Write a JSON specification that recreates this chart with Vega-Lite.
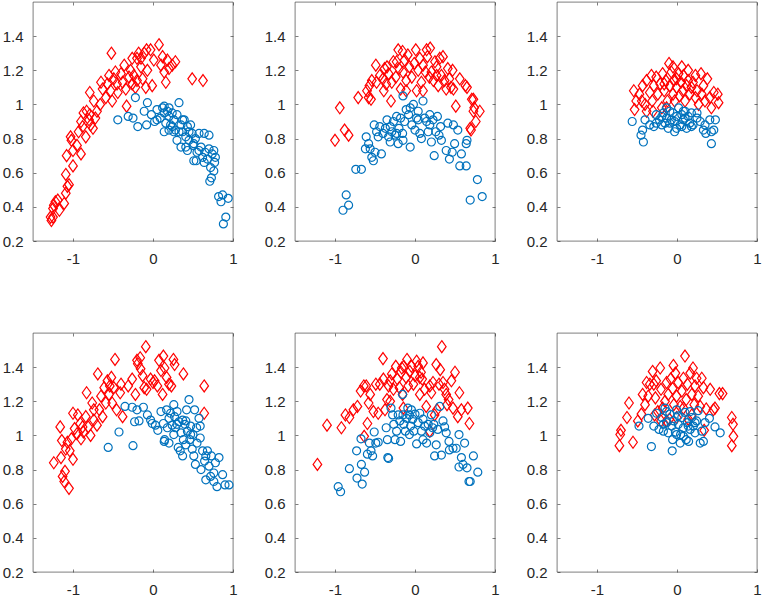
{
  "$schema": "https://vega.github.io/schema/vega-lite/v6.json",
  "padding": {"left": 1, "top": 1, "right": 0, "bottom": 0},
  "background": "white",
  "datasets": {
    "pts": [
      {"r":1,"c":1,"s":"r","x":-1.27,"y":0.32},{"r":1,"c":1,"s":"r","x":-1.25,"y":0.34},{"r":1,"c":1,"s":"r","x":-1.28,"y":0.34},{"r":1,"c":1,"s":"r","x":-1.24,"y":0.41},{"r":1,"c":1,"s":"r","x":-1.22,"y":0.43},{"r":1,"c":1,"s":"r","x":-1.19,"y":0.44},{"r":1,"c":1,"s":"r","x":-1.25,"y":0.39},{"r":1,"c":1,"s":"r","x":-1.11,"y":0.42},{"r":1,"c":1,"s":"r","x":-1.17,"y":0.38},{"r":1,"c":1,"s":"r","x":-1.09,"y":0.48},
      {"r":1,"c":1,"s":"r","x":-1.07,"y":0.52},{"r":1,"c":1,"s":"r","x":-1.05,"y":0.53},{"r":1,"c":1,"s":"r","x":-1.09,"y":0.59},{"r":1,"c":1,"s":"r","x":-1.08,"y":0.70},{"r":1,"c":1,"s":"r","x":-1.03,"y":0.81},{"r":1,"c":1,"s":"r","x":-1.02,"y":0.79},{"r":1,"c":1,"s":"r","x":-1.00,"y":0.64},{"r":1,"c":1,"s":"r","x":-1.0,"y":0.73},{"r":1,"c":1,"s":"r","x":-0.95,"y":0.76},{"r":1,"c":1,"s":"r","x":-0.90,"y":0.71},
      {"r":1,"c":1,"s":"r","x":-0.93,"y":0.84},{"r":1,"c":1,"s":"r","x":-0.88,"y":0.87},{"r":1,"c":1,"s":"r","x":-0.90,"y":0.90},{"r":1,"c":1,"s":"r","x":-0.87,"y":0.95},{"r":1,"c":1,"s":"r","x":-0.84,"y":0.81},{"r":1,"c":1,"s":"r","x":-0.83,"y":0.96},{"r":1,"c":1,"s":"r","x":-0.79,"y":0.94},{"r":1,"c":1,"s":"r","x":-0.80,"y":0.91},{"r":1,"c":1,"s":"r","x":-0.78,"y":0.88},{"r":1,"c":1,"s":"r","x":-0.75,"y":0.86},
      {"r":1,"c":1,"s":"r","x":-0.72,"y":0.92},{"r":1,"c":1,"s":"r","x":-0.79,"y":1.07},{"r":1,"c":1,"s":"r","x":-0.74,"y":1.02},{"r":1,"c":1,"s":"r","x":-0.70,"y":0.96},{"r":1,"c":1,"s":"r","x":-0.66,"y":1.00},{"r":1,"c":1,"s":"r","x":-0.65,"y":1.13},{"r":1,"c":1,"s":"r","x":-0.63,"y":1.09},{"r":1,"c":1,"s":"r","x":-0.59,"y":1.04},{"r":1,"c":1,"s":"r","x":-0.57,"y":1.12},{"r":1,"c":1,"s":"r","x":-0.55,"y":1.17},
      {"r":1,"c":1,"s":"r","x":-0.53,"y":1.08},{"r":1,"c":1,"s":"r","x":-0.51,"y":1.02},{"r":1,"c":1,"s":"r","x":-0.49,"y":1.15},{"r":1,"c":1,"s":"r","x":-0.52,"y":1.30},{"r":1,"c":1,"s":"r","x":-0.47,"y":1.19},{"r":1,"c":1,"s":"r","x":-0.45,"y":1.12},{"r":1,"c":1,"s":"r","x":-0.44,"y":1.07},{"r":1,"c":1,"s":"r","x":-0.40,"y":1.18},{"r":1,"c":1,"s":"r","x":-0.38,"y":1.13},{"r":1,"c":1,"s":"r","x":-0.36,"y":1.23},
      {"r":1,"c":1,"s":"r","x":-0.34,"y":1.09},{"r":1,"c":1,"s":"r","x":-0.33,"y":0.99},{"r":1,"c":1,"s":"r","x":-0.30,"y":1.16},{"r":1,"c":1,"s":"r","x":-0.28,"y":1.20},{"r":1,"c":1,"s":"r","x":-0.26,"y":1.12},{"r":1,"c":1,"s":"r","x":-0.24,"y":1.17},{"r":1,"c":1,"s":"r","x":-0.22,"y":1.10},{"r":1,"c":1,"s":"r","x":-0.20,"y":1.27},{"r":1,"c":1,"s":"r","x":-0.18,"y":1.30},{"r":1,"c":1,"s":"r","x":-0.15,"y":1.22},
      {"r":1,"c":1,"s":"r","x":-0.13,"y":1.15},{"r":1,"c":1,"s":"r","x":-0.11,"y":1.30},{"r":1,"c":1,"s":"r","x":-0.09,"y":1.10},{"r":1,"c":1,"s":"r","x":-0.07,"y":1.20},{"r":1,"c":1,"s":"r","x":-0.03,"y":1.32},{"r":1,"c":1,"s":"r","x":-0.01,"y":1.11},{"r":1,"c":1,"s":"r","x":0.01,"y":1.26},{"r":1,"c":1,"s":"r","x":0.075,"y":1.35},{"r":1,"c":1,"s":"r","x":0.10,"y":1.23},{"r":1,"c":1,"s":"r","x":0.12,"y":1.28},
      {"r":1,"c":1,"s":"r","x":0.14,"y":1.19},{"r":1,"c":1,"s":"r","x":0.16,"y":1.13},{"r":1,"c":1,"s":"r","x":0.18,"y":1.26},{"r":1,"c":1,"s":"r","x":0.20,"y":1.21},{"r":1,"c":1,"s":"r","x":0.24,"y":1.23},{"r":1,"c":1,"s":"r","x":0.28,"y":1.25},{"r":1,"c":1,"s":"r","x":0.49,"y":1.15},{"r":1,"c":1,"s":"r","x":0.625,"y":1.14},{"r":1,"c":1,"s":"r","x":-0.20,"y":1.14},{"r":1,"c":1,"s":"r","x":-0.26,"y":1.27},
      {"r":1,"c":1,"s":"r","x":-0.15,"y":1.27},{"r":1,"c":1,"s":"r","x":-0.08,"y":1.32},
      {"r":1,"c":1,"s":"b","x":-0.44,"y":0.91},{"r":1,"c":1,"s":"b","x":-0.31,"y":0.93},{"r":1,"c":1,"s":"b","x":-0.25,"y":0.92},{"r":1,"c":1,"s":"b","x":-0.22,"y":1.04},{"r":1,"c":1,"s":"b","x":-0.19,"y":0.87},{"r":1,"c":1,"s":"b","x":-0.11,"y":0.96},{"r":1,"c":1,"s":"b","x":-0.08,"y":0.88},{"r":1,"c":1,"s":"b","x":-0.07,"y":1.01},{"r":1,"c":1,"s":"b","x":-0.02,"y":0.94},{"r":1,"c":1,"s":"b","x":0.02,"y":0.90},
      {"r":1,"c":1,"s":"b","x":0.05,"y":0.97},{"r":1,"c":1,"s":"b","x":0.09,"y":0.92},{"r":1,"c":1,"s":"b","x":0.12,"y":0.98},{"r":1,"c":1,"s":"b","x":0.14,"y":0.95},{"r":1,"c":1,"s":"b","x":0.16,"y":0.89},{"r":1,"c":1,"s":"b","x":0.18,"y":0.96},{"r":1,"c":1,"s":"b","x":0.20,"y":0.93},{"r":1,"c":1,"s":"b","x":0.22,"y":0.88},{"r":1,"c":1,"s":"b","x":0.24,"y":0.95},{"r":1,"c":1,"s":"b","x":0.26,"y":0.91},
      {"r":1,"c":1,"s":"b","x":0.28,"y":0.85},{"r":1,"c":1,"s":"b","x":0.30,"y":0.94},{"r":1,"c":1,"s":"b","x":0.325,"y":1.01},{"r":1,"c":1,"s":"b","x":0.35,"y":0.88},{"r":1,"c":1,"s":"b","x":0.37,"y":0.84},{"r":1,"c":1,"s":"b","x":0.35,"y":0.75},{"r":1,"c":1,"s":"b","x":0.39,"y":0.91},{"r":1,"c":1,"s":"b","x":0.41,"y":0.81},{"r":1,"c":1,"s":"b","x":0.43,"y":0.87},{"r":1,"c":1,"s":"b","x":0.45,"y":0.79},
      {"r":1,"c":1,"s":"b","x":0.47,"y":0.88},{"r":1,"c":1,"s":"b","x":0.49,"y":0.83},{"r":1,"c":1,"s":"b","x":0.50,"y":0.76},{"r":1,"c":1,"s":"b","x":0.51,"y":0.67},{"r":1,"c":1,"s":"b","x":0.53,"y":0.80},{"r":1,"c":1,"s":"b","x":0.55,"y":0.72},{"r":1,"c":1,"s":"b","x":0.575,"y":0.83},{"r":1,"c":1,"s":"b","x":0.60,"y":0.75},{"r":1,"c":1,"s":"b","x":0.62,"y":0.69},{"r":1,"c":1,"s":"b","x":0.64,"y":0.83},
      {"r":1,"c":1,"s":"b","x":0.65,"y":0.72},{"r":1,"c":1,"s":"b","x":0.68,"y":0.68},{"r":1,"c":1,"s":"b","x":0.70,"y":0.74},{"r":1,"c":1,"s":"b","x":0.72,"y":0.63},{"r":1,"c":1,"s":"b","x":0.71,"y":0.55},{"r":1,"c":1,"s":"b","x":0.73,"y":0.57},{"r":1,"c":1,"s":"b","x":0.74,"y":0.71},{"r":1,"c":1,"s":"b","x":0.76,"y":0.73},{"r":1,"c":1,"s":"b","x":0.77,"y":0.66},{"r":1,"c":1,"s":"b","x":0.78,"y":0.69},
      {"r":1,"c":1,"s":"b","x":0.87,"y":0.47},{"r":1,"c":1,"s":"b","x":0.82,"y":0.46},{"r":1,"c":1,"s":"b","x":0.85,"y":0.43},{"r":1,"c":1,"s":"b","x":0.91,"y":0.34},{"r":1,"c":1,"s":"b","x":0.88,"y":0.30},{"r":1,"c":1,"s":"b","x":0.94,"y":0.45},{"r":1,"c":1,"s":"b","x":0.05,"y":0.91},{"r":1,"c":1,"s":"b","x":0.14,"y":0.84},{"r":1,"c":1,"s":"b","x":0.20,"y":0.85},{"r":1,"c":1,"s":"b","x":0.26,"y":0.84},
      {"r":1,"c":1,"s":"b","x":0.30,"y":0.79},{"r":1,"c":1,"s":"b","x":0.325,"y":0.84},{"r":1,"c":1,"s":"b","x":0.37,"y":0.91},{"r":1,"c":1,"s":"b","x":0.43,"y":0.73},{"r":1,"c":1,"s":"b","x":0.45,"y":0.84},{"r":1,"c":1,"s":"b","x":0.51,"y":0.77},{"r":1,"c":1,"s":"b","x":0.575,"y":0.73},{"r":1,"c":1,"s":"b","x":0.64,"y":0.66},{"r":1,"c":1,"s":"b","x":0.70,"y":0.82},{"r":1,"c":1,"s":"b","x":0.14,"y":0.99},
      {"r":1,"c":1,"s":"b","x":0.20,"y":0.98},{"r":1,"c":1,"s":"b","x":0.24,"y":0.87},{"r":1,"c":1,"s":"b","x":0.41,"y":0.75},{"r":1,"c":1,"s":"b","x":0.54,"y":0.67},{"r":1,"c":1,"s":"b","x":0.76,"y":0.61},

      {"r":1,"c":2,"s":"r","x":-1.0,"y":0.79},{"r":1,"c":2,"s":"r","x":-0.94,"y":0.98},{"r":1,"c":2,"s":"r","x":-0.88,"y":0.85},{"r":1,"c":2,"s":"r","x":-0.83,"y":0.82},{"r":1,"c":2,"s":"r","x":-0.71,"y":1.04},{"r":1,"c":2,"s":"r","x":-0.60,"y":1.08},{"r":1,"c":2,"s":"r","x":-0.58,"y":1.04},{"r":1,"c":2,"s":"r","x":-0.55,"y":1.03},{"r":1,"c":2,"s":"r","x":-0.57,"y":1.11},{"r":1,"c":2,"s":"r","x":-0.54,"y":1.14},
      {"r":1,"c":2,"s":"r","x":-0.49,"y":1.23},{"r":1,"c":2,"s":"r","x":-0.48,"y":1.13},{"r":1,"c":2,"s":"r","x":-0.44,"y":1.17},{"r":1,"c":2,"s":"r","x":-0.40,"y":1.15},{"r":1,"c":2,"s":"r","x":-0.38,"y":1.21},{"r":1,"c":2,"s":"r","x":-0.36,"y":1.12},{"r":1,"c":2,"s":"r","x":-0.33,"y":1.18},{"r":1,"c":2,"s":"r","x":-0.30,"y":1.02},{"r":1,"c":2,"s":"r","x":-0.29,"y":1.13},{"r":1,"c":2,"s":"r","x":-0.27,"y":1.25},
      {"r":1,"c":2,"s":"r","x":-0.24,"y":1.16},{"r":1,"c":2,"s":"r","x":-0.21,"y":1.32},{"r":1,"c":2,"s":"r","x":-0.20,"y":1.21},{"r":1,"c":2,"s":"r","x":-0.18,"y":1.09},{"r":1,"c":2,"s":"r","x":-0.155,"y":1.31},{"r":1,"c":2,"s":"r","x":-0.15,"y":1.19},{"r":1,"c":2,"s":"r","x":-0.13,"y":1.26},{"r":1,"c":2,"s":"r","x":-0.11,"y":1.14},{"r":1,"c":2,"s":"r","x":-0.07,"y":1.22},{"r":1,"c":2,"s":"r","x":-0.04,"y":1.16},
      {"r":1,"c":2,"s":"r","x":-0.01,"y":1.24},{"r":1,"c":2,"s":"r","x":0.01,"y":1.32},{"r":1,"c":2,"s":"r","x":0.02,"y":1.08},{"r":1,"c":2,"s":"r","x":0.04,"y":1.20},{"r":1,"c":2,"s":"r","x":0.06,"y":1.27},{"r":1,"c":2,"s":"r","x":0.08,"y":1.13},{"r":1,"c":2,"s":"r","x":0.10,"y":1.23},{"r":1,"c":2,"s":"r","x":0.13,"y":1.19},{"r":1,"c":2,"s":"r","x":0.155,"y":1.28},{"r":1,"c":2,"s":"r","x":0.18,"y":1.16},
      {"r":1,"c":2,"s":"r","x":0.19,"y":1.33},{"r":1,"c":2,"s":"r","x":0.205,"y":1.19},{"r":1,"c":2,"s":"r","x":0.23,"y":1.14},{"r":1,"c":2,"s":"r","x":0.25,"y":1.25},{"r":1,"c":2,"s":"r","x":0.27,"y":1.17},{"r":1,"c":2,"s":"r","x":0.29,"y":1.11},{"r":1,"c":2,"s":"r","x":0.31,"y":1.27},{"r":1,"c":2,"s":"r","x":0.33,"y":1.17},{"r":1,"c":2,"s":"r","x":0.35,"y":1.28},{"r":1,"c":2,"s":"r","x":0.37,"y":1.14},
      {"r":1,"c":2,"s":"r","x":0.39,"y":1.09},{"r":1,"c":2,"s":"r","x":0.41,"y":1.21},{"r":1,"c":2,"s":"r","x":0.43,"y":1.15},{"r":1,"c":2,"s":"r","x":0.45,"y":1.10},{"r":1,"c":2,"s":"r","x":0.47,"y":1.20},{"r":1,"c":2,"s":"r","x":0.48,"y":1.09},{"r":1,"c":2,"s":"r","x":0.51,"y":0.99},{"r":1,"c":2,"s":"r","x":0.56,"y":1.15},{"r":1,"c":2,"s":"r","x":0.63,"y":1.11},{"r":1,"c":2,"s":"r","x":0.65,"y":1.10},
      {"r":1,"c":2,"s":"r","x":0.71,"y":1.03},{"r":1,"c":2,"s":"r","x":0.69,"y":0.86},{"r":1,"c":2,"s":"r","x":0.73,"y":1.03},{"r":1,"c":2,"s":"r","x":0.76,"y":0.90},{"r":1,"c":2,"s":"r","x":0.73,"y":0.96},{"r":1,"c":2,"s":"r","x":0.81,"y":0.96},{"r":1,"c":2,"s":"r","x":0.70,"y":0.85},{"r":1,"c":2,"s":"r","x":0.74,"y":0.98},{"r":1,"c":2,"s":"r","x":-0.23,"y":1.25},{"r":1,"c":2,"s":"r","x":-0.09,"y":1.29},
      {"r":1,"c":2,"s":"r","x":0.145,"y":1.32},{"r":1,"c":2,"s":"r","x":-0.11,"y":1.08},{"r":1,"c":2,"s":"r","x":-0.35,"y":1.22},{"r":1,"c":2,"s":"r","x":0.10,"y":1.08},{"r":1,"c":2,"s":"r","x":0.27,"y":1.22},{"r":1,"c":2,"s":"r","x":-0.39,"y":1.08},
      {"r":1,"c":2,"s":"b","x":-0.90,"y":0.38},{"r":1,"c":2,"s":"b","x":-0.86,"y":0.47},{"r":1,"c":2,"s":"b","x":-0.83,"y":0.41},{"r":1,"c":2,"s":"b","x":-0.74,"y":0.62},{"r":1,"c":2,"s":"b","x":-0.67,"y":0.62},{"r":1,"c":2,"s":"b","x":-0.62,"y":0.74},{"r":1,"c":2,"s":"b","x":-0.61,"y":0.81},{"r":1,"c":2,"s":"b","x":-0.58,"y":0.77},{"r":1,"c":2,"s":"b","x":-0.56,"y":0.74},{"r":1,"c":2,"s":"b","x":-0.54,"y":0.69},
      {"r":1,"c":2,"s":"b","x":-0.52,"y":0.67},{"r":1,"c":2,"s":"b","x":-0.51,"y":0.88},{"r":1,"c":2,"s":"b","x":-0.50,"y":0.72},{"r":1,"c":2,"s":"b","x":-0.48,"y":0.84},{"r":1,"c":2,"s":"b","x":-0.46,"y":0.81},{"r":1,"c":2,"s":"b","x":-0.44,"y":0.87},{"r":1,"c":2,"s":"b","x":-0.42,"y":0.71},{"r":1,"c":2,"s":"b","x":-0.40,"y":0.83},{"r":1,"c":2,"s":"b","x":-0.37,"y":0.86},{"r":1,"c":2,"s":"b","x":-0.35,"y":0.91},
      {"r":1,"c":2,"s":"b","x":-0.33,"y":0.81},{"r":1,"c":2,"s":"b","x":-0.31,"y":0.78},{"r":1,"c":2,"s":"b","x":-0.29,"y":0.84},{"r":1,"c":2,"s":"b","x":-0.27,"y":0.90},{"r":1,"c":2,"s":"b","x":-0.25,"y":0.82},{"r":1,"c":2,"s":"b","x":-0.23,"y":0.93},{"r":1,"c":2,"s":"b","x":-0.21,"y":0.77},{"r":1,"c":2,"s":"b","x":-0.20,"y":0.86},{"r":1,"c":2,"s":"b","x":-0.18,"y":0.92},{"r":1,"c":2,"s":"b","x":-0.155,"y":0.83},
      {"r":1,"c":2,"s":"b","x":-0.15,"y":1.05},{"r":1,"c":2,"s":"b","x":-0.13,"y":0.90},{"r":1,"c":2,"s":"b","x":-0.11,"y":0.97},{"r":1,"c":2,"s":"b","x":-0.08,"y":0.94},{"r":1,"c":2,"s":"b","x":-0.06,"y":0.98},{"r":1,"c":2,"s":"b","x":-0.04,"y":0.88},{"r":1,"c":2,"s":"b","x":-0.02,"y":1.00},{"r":1,"c":2,"s":"b","x":0.00,"y":0.85},{"r":1,"c":2,"s":"b","x":0.02,"y":0.92},{"r":1,"c":2,"s":"b","x":0.04,"y":0.91},
      {"r":1,"c":2,"s":"b","x":0.06,"y":0.83},{"r":1,"c":2,"s":"b","x":0.08,"y":0.80},{"r":1,"c":2,"s":"b","x":0.10,"y":1.02},{"r":1,"c":2,"s":"b","x":0.12,"y":0.92},{"r":1,"c":2,"s":"b","x":0.145,"y":0.90},{"r":1,"c":2,"s":"b","x":0.165,"y":0.84},{"r":1,"c":2,"s":"b","x":0.185,"y":0.88},{"r":1,"c":2,"s":"b","x":0.205,"y":0.78},{"r":1,"c":2,"s":"b","x":0.225,"y":0.91},{"r":1,"c":2,"s":"b","x":0.24,"y":0.70},
      {"r":1,"c":2,"s":"b","x":0.26,"y":0.84},{"r":1,"c":2,"s":"b","x":0.28,"y":0.93},{"r":1,"c":2,"s":"b","x":0.30,"y":0.82},{"r":1,"c":2,"s":"b","x":0.32,"y":0.87},{"r":1,"c":2,"s":"b","x":0.33,"y":0.79},{"r":1,"c":2,"s":"b","x":0.39,"y":0.73},{"r":1,"c":2,"s":"b","x":0.41,"y":0.89},{"r":1,"c":2,"s":"b","x":0.43,"y":0.68},{"r":1,"c":2,"s":"b","x":0.465,"y":0.72},{"r":1,"c":2,"s":"b","x":0.48,"y":0.88},
      {"r":1,"c":2,"s":"b","x":0.495,"y":0.77},{"r":1,"c":2,"s":"b","x":0.535,"y":0.85},{"r":1,"c":2,"s":"b","x":0.56,"y":0.64},{"r":1,"c":2,"s":"b","x":0.58,"y":0.71},{"r":1,"c":2,"s":"b","x":0.64,"y":0.64},{"r":1,"c":2,"s":"b","x":0.64,"y":0.77},{"r":1,"c":2,"s":"b","x":0.65,"y":0.79},{"r":1,"c":2,"s":"b","x":0.69,"y":0.44},{"r":1,"c":2,"s":"b","x":0.78,"y":0.56},{"r":1,"c":2,"s":"b","x":0.84,"y":0.46},
      {"r":1,"c":2,"s":"b","x":-0.23,"y":0.83},{"r":1,"c":2,"s":"b","x":-0.31,"y":0.87},{"r":1,"c":2,"s":"b","x":0.04,"y":0.96},{"r":1,"c":2,"s":"b","x":0.185,"y":0.94},{"r":1,"c":2,"s":"b","x":-0.15,"y":0.79},{"r":1,"c":2,"s":"b","x":-0.06,"y":0.75},

      {"r":1,"c":3,"s":"r","x":-0.54,"y":1.08},{"r":1,"c":3,"s":"r","x":-0.53,"y":0.97},{"r":1,"c":3,"s":"r","x":-0.51,"y":1.02},{"r":1,"c":3,"s":"r","x":-0.47,"y":1.06},{"r":1,"c":3,"s":"r","x":-0.43,"y":1.11},{"r":1,"c":3,"s":"r","x":-0.40,"y":1.00},{"r":1,"c":3,"s":"r","x":-0.38,"y":1.14},{"r":1,"c":3,"s":"r","x":-0.38,"y":0.96},{"r":1,"c":3,"s":"r","x":-0.34,"y":1.07},{"r":1,"c":3,"s":"r","x":-0.32,"y":1.17},
      {"r":1,"c":3,"s":"r","x":-0.31,"y":1.02},{"r":1,"c":3,"s":"r","x":-0.29,"y":1.11},{"r":1,"c":3,"s":"r","x":-0.26,"y":1.16},{"r":1,"c":3,"s":"r","x":-0.24,"y":1.06},{"r":1,"c":3,"s":"r","x":-0.21,"y":1.12},{"r":1,"c":3,"s":"r","x":-0.19,"y":0.98},{"r":1,"c":3,"s":"r","x":-0.18,"y":1.18},{"r":1,"c":3,"s":"r","x":-0.16,"y":1.08},{"r":1,"c":3,"s":"r","x":-0.14,"y":1.14},{"r":1,"c":3,"s":"r","x":-0.12,"y":1.02},
      {"r":1,"c":3,"s":"r","x":-0.10,"y":1.24},{"r":1,"c":3,"s":"r","x":-0.09,"y":1.11},{"r":1,"c":3,"s":"r","x":-0.07,"y":1.19},{"r":1,"c":3,"s":"r","x":-0.05,"y":1.06},{"r":1,"c":3,"s":"r","x":-0.04,"y":1.14},{"r":1,"c":3,"s":"r","x":-0.03,"y":1.02},{"r":1,"c":3,"s":"r","x":-0.005,"y":1.10},{"r":1,"c":3,"s":"r","x":0.02,"y":1.18},{"r":1,"c":3,"s":"r","x":0.03,"y":1.05},{"r":1,"c":3,"s":"r","x":0.05,"y":1.13},
      {"r":1,"c":3,"s":"r","x":0.07,"y":1.08},{"r":1,"c":3,"s":"r","x":0.08,"y":1.17},{"r":1,"c":3,"s":"r","x":0.10,"y":1.02},{"r":1,"c":3,"s":"r","x":0.12,"y":1.11},{"r":1,"c":3,"s":"r","x":0.14,"y":1.14},{"r":1,"c":3,"s":"r","x":0.16,"y":1.06},{"r":1,"c":3,"s":"r","x":0.18,"y":1.10},{"r":1,"c":3,"s":"r","x":0.20,"y":1.13},{"r":1,"c":3,"s":"r","x":0.23,"y":1.04},{"r":1,"c":3,"s":"r","x":0.25,"y":1.08},
      {"r":1,"c":3,"s":"r","x":0.27,"y":1.00},{"r":1,"c":3,"s":"r","x":0.30,"y":1.18},{"r":1,"c":3,"s":"r","x":0.31,"y":1.06},{"r":1,"c":3,"s":"r","x":0.33,"y":1.11},{"r":1,"c":3,"s":"r","x":0.35,"y":1.02},{"r":1,"c":3,"s":"r","x":0.38,"y":1.15},{"r":1,"c":3,"s":"r","x":0.41,"y":1.04},{"r":1,"c":3,"s":"r","x":0.43,"y":0.98},{"r":1,"c":3,"s":"r","x":0.46,"y":1.07},{"r":1,"c":3,"s":"r","x":0.51,"y":1.06},
      {"r":1,"c":3,"s":"r","x":0.52,"y":1.01},{"r":1,"c":3,"s":"r","x":-0.30,"y":0.96},{"r":1,"c":3,"s":"r","x":-0.13,"y":0.98},{"r":1,"c":3,"s":"r","x":-0.05,"y":1.22},{"r":1,"c":3,"s":"r","x":0.06,"y":1.22},{"r":1,"c":3,"s":"r","x":-0.16,"y":1.12},{"r":1,"c":3,"s":"r","x":-0.005,"y":1.15},{"r":1,"c":3,"s":"r","x":0.14,"y":1.20},{"r":1,"c":3,"s":"r","x":-0.44,"y":1.02},{"r":1,"c":3,"s":"r","x":0.23,"y":1.17},
      {"r":1,"c":3,"s":"b","x":-0.56,"y":0.90},{"r":1,"c":3,"s":"b","x":-0.45,"y":0.82},{"r":1,"c":3,"s":"b","x":-0.43,"y":0.85},{"r":1,"c":3,"s":"b","x":-0.42,"y":0.78},{"r":1,"c":3,"s":"b","x":-0.40,"y":0.91},{"r":1,"c":3,"s":"b","x":-0.34,"y":0.88},{"r":1,"c":3,"s":"b","x":-0.29,"y":0.87},{"r":1,"c":3,"s":"b","x":-0.26,"y":0.94},{"r":1,"c":3,"s":"b","x":-0.22,"y":0.91},{"r":1,"c":3,"s":"b","x":-0.19,"y":0.88},
      {"r":1,"c":3,"s":"b","x":-0.17,"y":0.95},{"r":1,"c":3,"s":"b","x":-0.15,"y":0.89},{"r":1,"c":3,"s":"b","x":-0.13,"y":0.92},{"r":1,"c":3,"s":"b","x":-0.11,"y":0.86},{"r":1,"c":3,"s":"b","x":-0.09,"y":0.96},{"r":1,"c":3,"s":"b","x":-0.07,"y":0.91},{"r":1,"c":3,"s":"b","x":-0.05,"y":0.95},{"r":1,"c":3,"s":"b","x":-0.03,"y":0.84},{"r":1,"c":3,"s":"b","x":-0.005,"y":0.93},{"r":1,"c":3,"s":"b","x":0.02,"y":0.98},
      {"r":1,"c":3,"s":"b","x":0.04,"y":0.88},{"r":1,"c":3,"s":"b","x":0.06,"y":0.94},{"r":1,"c":3,"s":"b","x":0.08,"y":0.91},{"r":1,"c":3,"s":"b","x":0.10,"y":0.96},{"r":1,"c":3,"s":"b","x":0.12,"y":0.86},{"r":1,"c":3,"s":"b","x":0.14,"y":0.93},{"r":1,"c":3,"s":"b","x":0.16,"y":0.89},{"r":1,"c":3,"s":"b","x":0.18,"y":0.95},{"r":1,"c":3,"s":"b","x":0.20,"y":0.88},{"r":1,"c":3,"s":"b","x":0.25,"y":0.92},
      {"r":1,"c":3,"s":"b","x":0.29,"y":0.90},{"r":1,"c":3,"s":"b","x":0.33,"y":0.85},{"r":1,"c":3,"s":"b","x":0.35,"y":0.88},{"r":1,"c":3,"s":"b","x":0.36,"y":0.83},{"r":1,"c":3,"s":"b","x":0.41,"y":0.91},{"r":1,"c":3,"s":"b","x":0.43,"y":0.84},{"r":1,"c":3,"s":"b","x":0.43,"y":0.77},{"r":1,"c":3,"s":"b","x":0.46,"y":0.85},{"r":1,"c":3,"s":"b","x":0.48,"y":0.91},{"r":1,"c":3,"s":"b","x":-0.03,"y":0.90},
      {"r":1,"c":3,"s":"b","x":0.06,"y":0.87},{"r":1,"c":3,"s":"b","x":-0.13,"y":0.98},{"r":1,"c":3,"s":"b","x":-0.005,"y":0.86},{"r":1,"c":3,"s":"b","x":0.10,"y":0.92},{"r":1,"c":3,"s":"b","x":0.18,"y":0.87},{"r":1,"c":3,"s":"b","x":-0.19,"y":0.93},{"r":1,"c":3,"s":"b","x":-0.09,"y":0.89},{"r":1,"c":3,"s":"b","x":0.08,"y":0.96},{"r":1,"c":3,"s":"b","x":-0.26,"y":0.89},{"r":1,"c":3,"s":"b","x":0.25,"y":0.95},

      {"r":2,"c":1,"s":"r","x":-1.24,"y":0.84},{"r":2,"c":1,"s":"r","x":-1.16,"y":1.05},{"r":2,"c":1,"s":"r","x":-1.14,"y":0.97},{"r":2,"c":1,"s":"r","x":-1.15,"y":0.87},{"r":2,"c":1,"s":"r","x":-1.13,"y":0.76},{"r":2,"c":1,"s":"r","x":-1.10,"y":0.79},{"r":2,"c":1,"s":"r","x":-1.11,"y":0.73},{"r":2,"c":1,"s":"r","x":-1.05,"y":0.69},{"r":2,"c":1,"s":"r","x":-1.09,"y":0.92},{"r":2,"c":1,"s":"r","x":-1.07,"y":0.96},
      {"r":2,"c":1,"s":"r","x":-1.04,"y":0.91},{"r":2,"c":1,"s":"r","x":-1.02,"y":0.98},{"r":2,"c":1,"s":"r","x":-1.0,"y":0.86},{"r":2,"c":1,"s":"r","x":-1.0,"y":1.13},{"r":2,"c":1,"s":"r","x":-0.98,"y":1.04},{"r":2,"c":1,"s":"r","x":-0.95,"y":1.01},{"r":2,"c":1,"s":"r","x":-0.94,"y":1.12},{"r":2,"c":1,"s":"r","x":-0.91,"y":1.07},{"r":2,"c":1,"s":"r","x":-0.90,"y":0.98},{"r":2,"c":1,"s":"r","x":-0.87,"y":1.02},
      {"r":2,"c":1,"s":"r","x":-0.84,"y":1.11},{"r":2,"c":1,"s":"r","x":-0.83,"y":1.25},{"r":2,"c":1,"s":"r","x":-0.81,"y":1.05},{"r":2,"c":1,"s":"r","x":-0.78,"y":1.00},{"r":2,"c":1,"s":"r","x":-0.76,"y":1.19},{"r":2,"c":1,"s":"r","x":-0.74,"y":1.09},{"r":2,"c":1,"s":"r","x":-0.70,"y":1.06},{"r":2,"c":1,"s":"r","x":-0.69,"y":1.36},{"r":2,"c":1,"s":"r","x":-0.67,"y":1.15},{"r":2,"c":1,"s":"r","x":-0.65,"y":1.23},
      {"r":2,"c":1,"s":"r","x":-0.63,"y":1.11},{"r":2,"c":1,"s":"r","x":-0.61,"y":1.28},{"r":2,"c":1,"s":"r","x":-0.59,"y":1.19},{"r":2,"c":1,"s":"r","x":-0.57,"y":1.32},{"r":2,"c":1,"s":"r","x":-0.55,"y":1.24},{"r":2,"c":1,"s":"r","x":-0.54,"y":1.29},{"r":2,"c":1,"s":"r","x":-0.52,"y":1.34},{"r":2,"c":1,"s":"r","x":-0.51,"y":1.19},{"r":2,"c":1,"s":"r","x":-0.49,"y":1.28},{"r":2,"c":1,"s":"r","x":-0.475,"y":1.445},
      {"r":2,"c":1,"s":"r","x":-0.455,"y":1.15},{"r":2,"c":1,"s":"r","x":-0.41,"y":1.25},{"r":2,"c":1,"s":"r","x":-0.38,"y":1.11},{"r":2,"c":1,"s":"r","x":-0.31,"y":1.29},{"r":2,"c":1,"s":"r","x":-0.26,"y":1.33},{"r":2,"c":1,"s":"r","x":-0.22,"y":1.24},{"r":2,"c":1,"s":"r","x":-0.20,"y":1.44},{"r":2,"c":1,"s":"r","x":-0.19,"y":1.42},{"r":2,"c":1,"s":"r","x":-0.16,"y":1.455},{"r":2,"c":1,"s":"r","x":-0.155,"y":1.39},
      {"r":2,"c":1,"s":"r","x":-0.13,"y":1.35},{"r":2,"c":1,"s":"r","x":-0.11,"y":1.28},{"r":2,"c":1,"s":"r","x":-0.08,"y":1.27},{"r":2,"c":1,"s":"r","x":-0.09,"y":1.52},{"r":2,"c":1,"s":"r","x":-0.03,"y":1.33},{"r":2,"c":1,"s":"r","x":0.02,"y":1.32},{"r":2,"c":1,"s":"r","x":0.0,"y":1.31},{"r":2,"c":1,"s":"r","x":0.055,"y":1.29},{"r":2,"c":1,"s":"r","x":0.075,"y":1.44},{"r":2,"c":1,"s":"r","x":0.10,"y":1.38},
      {"r":2,"c":1,"s":"r","x":0.12,"y":1.24},{"r":2,"c":1,"s":"r","x":0.13,"y":1.465},{"r":2,"c":1,"s":"r","x":0.145,"y":1.395},{"r":2,"c":1,"s":"r","x":0.17,"y":1.34},{"r":2,"c":1,"s":"r","x":0.20,"y":1.30},{"r":2,"c":1,"s":"r","x":0.23,"y":1.29},{"r":2,"c":1,"s":"r","x":0.255,"y":1.445},{"r":2,"c":1,"s":"r","x":0.27,"y":1.415},{"r":2,"c":1,"s":"r","x":0.38,"y":1.36},{"r":2,"c":1,"s":"r","x":0.64,"y":1.29},
      {"r":2,"c":1,"s":"r","x":0.64,"y":1.13},{"r":2,"c":1,"s":"r","x":-0.40,"y":1.30},{"r":2,"c":1,"s":"r","x":-0.74,"y":1.15},{"r":2,"c":1,"s":"r","x":-0.88,"y":1.05},
      {"r":2,"c":1,"s":"b","x":-0.56,"y":0.93},{"r":2,"c":1,"s":"b","x":-0.425,"y":1.02},{"r":2,"c":1,"s":"b","x":-0.25,"y":0.94},{"r":2,"c":1,"s":"b","x":-0.35,"y":1.17},{"r":2,"c":1,"s":"b","x":-0.26,"y":1.165},{"r":2,"c":1,"s":"b","x":-0.20,"y":1.15},{"r":2,"c":1,"s":"b","x":-0.12,"y":1.165},{"r":2,"c":1,"s":"b","x":-0.23,"y":1.08},{"r":2,"c":1,"s":"b","x":-0.175,"y":1.085},{"r":2,"c":1,"s":"b","x":-0.07,"y":1.12},
      {"r":2,"c":1,"s":"b","x":-0.03,"y":1.09},{"r":2,"c":1,"s":"b","x":-0.01,"y":1.07},{"r":2,"c":1,"s":"b","x":0.03,"y":1.06},{"r":2,"c":1,"s":"b","x":0.06,"y":1.03},{"r":2,"c":1,"s":"b","x":0.10,"y":1.14},{"r":2,"c":1,"s":"b","x":0.13,"y":1.07},{"r":2,"c":1,"s":"b","x":0.145,"y":0.975},{"r":2,"c":1,"s":"b","x":0.17,"y":1.15},{"r":2,"c":1,"s":"b","x":0.20,"y":0.955},{"r":2,"c":1,"s":"b","x":0.20,"y":1.10},
      {"r":2,"c":1,"s":"b","x":0.22,"y":1.13},{"r":2,"c":1,"s":"b","x":0.24,"y":1.06},{"r":2,"c":1,"s":"b","x":0.26,"y":1.18},{"r":2,"c":1,"s":"b","x":0.27,"y":1.11},{"r":2,"c":1,"s":"b","x":0.28,"y":1.045},{"r":2,"c":1,"s":"b","x":0.30,"y":1.14},{"r":2,"c":1,"s":"b","x":0.315,"y":0.93},{"r":2,"c":1,"s":"b","x":0.325,"y":1.08},{"r":2,"c":1,"s":"b","x":0.34,"y":0.91},{"r":2,"c":1,"s":"b","x":0.35,"y":1.015},
      {"r":2,"c":1,"s":"b","x":0.37,"y":1.09},{"r":2,"c":1,"s":"b","x":0.38,"y":0.975},{"r":2,"c":1,"s":"b","x":0.40,"y":1.065},{"r":2,"c":1,"s":"b","x":0.41,"y":0.945},{"r":2,"c":1,"s":"b","x":0.42,"y":1.15},{"r":2,"c":1,"s":"b","x":0.43,"y":1.025},{"r":2,"c":1,"s":"b","x":0.45,"y":1.21},{"r":2,"c":1,"s":"b","x":0.46,"y":0.975},{"r":2,"c":1,"s":"b","x":0.47,"y":1.055},{"r":2,"c":1,"s":"b","x":0.49,"y":0.92},
      {"r":2,"c":1,"s":"b","x":0.50,"y":1.005},{"r":2,"c":1,"s":"b","x":0.52,"y":1.15},{"r":2,"c":1,"s":"b","x":0.53,"y":0.83},{"r":2,"c":1,"s":"b","x":0.545,"y":1.045},{"r":2,"c":1,"s":"b","x":0.55,"y":0.955},{"r":2,"c":1,"s":"b","x":0.575,"y":1.10},{"r":2,"c":1,"s":"b","x":0.59,"y":0.985},{"r":2,"c":1,"s":"b","x":0.60,"y":0.80},{"r":2,"c":1,"s":"b","x":0.62,"y":0.91},{"r":2,"c":1,"s":"b","x":0.645,"y":0.85},
      {"r":2,"c":1,"s":"b","x":0.66,"y":0.74},{"r":2,"c":1,"s":"b","x":0.68,"y":0.91},{"r":2,"c":1,"s":"b","x":0.70,"y":0.82},{"r":2,"c":1,"s":"b","x":0.72,"y":0.76},{"r":2,"c":1,"s":"b","x":0.73,"y":0.88},{"r":2,"c":1,"s":"b","x":0.76,"y":0.73},{"r":2,"c":1,"s":"b","x":0.78,"y":0.84},{"r":2,"c":1,"s":"b","x":0.80,"y":0.70},{"r":2,"c":1,"s":"b","x":0.825,"y":0.87},{"r":2,"c":1,"s":"b","x":0.87,"y":0.77},
      {"r":2,"c":1,"s":"b","x":0.90,"y":0.71},{"r":2,"c":1,"s":"b","x":0.95,"y":0.71},{"r":2,"c":1,"s":"b","x":0.14,"y":0.965},{"r":2,"c":1,"s":"b","x":0.26,"y":1.005},{"r":2,"c":1,"s":"b","x":0.37,"y":0.88},{"r":2,"c":1,"s":"b","x":0.41,"y":1.085},{"r":2,"c":1,"s":"b","x":0.47,"y":1.005},{"r":2,"c":1,"s":"b","x":0.51,"y":0.88},{"r":2,"c":1,"s":"b","x":0.30,"y":1.065},{"r":2,"c":1,"s":"b","x":0.18,"y":1.045},
      {"r":2,"c":1,"s":"b","x":0.59,"y":1.055},{"r":2,"c":1,"s":"b","x":0.66,"y":0.88},{"r":2,"c":1,"s":"b","x":0.76,"y":0.78},

      {"r":2,"c":2,"s":"r","x":-1.22,"y":0.83},{"r":2,"c":2,"s":"r","x":-1.10,"y":1.06},{"r":2,"c":2,"s":"r","x":-0.92,"y":1.045},{"r":2,"c":2,"s":"r","x":-0.87,"y":1.12},{"r":2,"c":2,"s":"r","x":-0.82,"y":1.105},{"r":2,"c":2,"s":"r","x":-0.77,"y":1.15},{"r":2,"c":2,"s":"r","x":-0.72,"y":1.17},{"r":2,"c":2,"s":"r","x":-0.68,"y":1.26},{"r":2,"c":2,"s":"r","x":-0.64,"y":1.29},{"r":2,"c":2,"s":"r","x":-0.635,"y":0.995},
      {"r":2,"c":2,"s":"r","x":-0.61,"y":1.29},{"r":2,"c":2,"s":"r","x":-0.595,"y":1.07},{"r":2,"c":2,"s":"r","x":-0.58,"y":1.19},{"r":2,"c":2,"s":"r","x":-0.56,"y":1.24},{"r":2,"c":2,"s":"r","x":-0.52,"y":1.14},{"r":2,"c":2,"s":"r","x":-0.49,"y":1.30},{"r":2,"c":2,"s":"r","x":-0.46,"y":1.13},{"r":2,"c":2,"s":"r","x":-0.44,"y":1.30},{"r":2,"c":2,"s":"r","x":-0.40,"y":1.45},{"r":2,"c":2,"s":"r","x":-0.395,"y":1.33},
      {"r":2,"c":2,"s":"r","x":-0.375,"y":1.15},{"r":2,"c":2,"s":"r","x":-0.35,"y":1.21},{"r":2,"c":2,"s":"r","x":-0.33,"y":1.29},{"r":2,"c":2,"s":"r","x":-0.31,"y":1.32},{"r":2,"c":2,"s":"r","x":-0.29,"y":1.36},{"r":2,"c":2,"s":"r","x":-0.27,"y":1.27},{"r":2,"c":2,"s":"r","x":-0.24,"y":1.405},{"r":2,"c":2,"s":"r","x":-0.22,"y":1.33},{"r":2,"c":2,"s":"r","x":-0.195,"y":1.28},{"r":2,"c":2,"s":"r","x":-0.175,"y":1.37},
      {"r":2,"c":2,"s":"r","x":-0.155,"y":1.24},{"r":2,"c":2,"s":"r","x":-0.14,"y":1.405},{"r":2,"c":2,"s":"r","x":-0.11,"y":1.34},{"r":2,"c":2,"s":"r","x":-0.10,"y":1.445},{"r":2,"c":2,"s":"r","x":-0.085,"y":1.29},{"r":2,"c":2,"s":"r","x":-0.065,"y":1.375},{"r":2,"c":2,"s":"r","x":-0.045,"y":1.405},{"r":2,"c":2,"s":"r","x":-0.02,"y":1.30},{"r":2,"c":2,"s":"r","x":0.0,"y":1.35},{"r":2,"c":2,"s":"r","x":0.02,"y":1.435},
      {"r":2,"c":2,"s":"r","x":0.04,"y":1.405},{"r":2,"c":2,"s":"r","x":0.06,"y":1.24},{"r":2,"c":2,"s":"r","x":0.075,"y":1.37},{"r":2,"c":2,"s":"r","x":0.09,"y":1.33},{"r":2,"c":2,"s":"r","x":0.10,"y":1.425},{"r":2,"c":2,"s":"r","x":0.12,"y":1.27},{"r":2,"c":2,"s":"r","x":0.14,"y":1.17},{"r":2,"c":2,"s":"r","x":0.185,"y":1.29},{"r":2,"c":2,"s":"r","x":0.205,"y":1.25},{"r":2,"c":2,"s":"r","x":0.225,"y":1.31},
      {"r":2,"c":2,"s":"r","x":0.245,"y":1.12},{"r":2,"c":2,"s":"r","x":0.275,"y":1.15},{"r":2,"c":2,"s":"r","x":0.30,"y":1.30},{"r":2,"c":2,"s":"r","x":0.315,"y":1.385},{"r":2,"c":2,"s":"r","x":0.335,"y":1.52},{"r":2,"c":2,"s":"r","x":0.35,"y":1.31},{"r":2,"c":2,"s":"r","x":0.37,"y":1.27},{"r":2,"c":2,"s":"r","x":0.39,"y":1.24},{"r":2,"c":2,"s":"r","x":0.40,"y":1.18},{"r":2,"c":2,"s":"r","x":0.42,"y":1.21},
      {"r":2,"c":2,"s":"r","x":0.455,"y":1.32},{"r":2,"c":2,"s":"r","x":0.475,"y":1.16},{"r":2,"c":2,"s":"r","x":0.50,"y":1.37},{"r":2,"c":2,"s":"r","x":0.535,"y":1.11},{"r":2,"c":2,"s":"r","x":0.555,"y":1.25},{"r":2,"c":2,"s":"r","x":0.58,"y":1.15},{"r":2,"c":2,"s":"r","x":0.66,"y":1.16},{"r":2,"c":2,"s":"r","x":0.68,"y":1.07},{"r":2,"c":2,"s":"r","x":0.185,"y":1.025},{"r":2,"c":2,"s":"r","x":-0.31,"y":1.20},
      {"r":2,"c":2,"s":"r","x":-0.165,"y":1.395},{"r":2,"c":2,"s":"r","x":0.265,"y":1.415},{"r":2,"c":2,"s":"r","x":-0.145,"y":1.16},{"r":2,"c":2,"s":"r","x":0.06,"y":1.34},
      {"r":2,"c":2,"s":"b","x":-0.96,"y":0.70},{"r":2,"c":2,"s":"b","x":-0.93,"y":0.67},{"r":2,"c":2,"s":"b","x":-0.82,"y":0.805},{"r":2,"c":2,"s":"b","x":-0.73,"y":0.91},{"r":2,"c":2,"s":"b","x":-0.725,"y":0.75},{"r":2,"c":2,"s":"b","x":-0.67,"y":0.83},{"r":2,"c":2,"s":"b","x":-0.66,"y":0.715},{"r":2,"c":2,"s":"b","x":-0.63,"y":0.785},{"r":2,"c":2,"s":"b","x":-0.675,"y":0.98},{"r":2,"c":2,"s":"b","x":-0.595,"y":0.89},
      {"r":2,"c":2,"s":"b","x":-0.57,"y":0.955},{"r":2,"c":2,"s":"b","x":-0.55,"y":0.91},{"r":2,"c":2,"s":"b","x":-0.53,"y":0.88},{"r":2,"c":2,"s":"b","x":-0.51,"y":1.02},{"r":2,"c":2,"s":"b","x":-0.49,"y":0.955},{"r":2,"c":2,"s":"b","x":-0.46,"y":0.96},{"r":2,"c":2,"s":"b","x":-0.36,"y":1.045},{"r":2,"c":2,"s":"b","x":-0.345,"y":0.975},{"r":2,"c":2,"s":"b","x":-0.33,"y":0.865},{"r":2,"c":2,"s":"b","x":-0.30,"y":1.16},
      {"r":2,"c":2,"s":"b","x":-0.28,"y":1.12},{"r":2,"c":2,"s":"b","x":-0.265,"y":1.065},{"r":2,"c":2,"s":"b","x":-0.25,"y":0.975},{"r":2,"c":2,"s":"b","x":-0.23,"y":1.025},{"r":2,"c":2,"s":"b","x":-0.21,"y":1.12},{"r":2,"c":2,"s":"b","x":-0.19,"y":1.085},{"r":2,"c":2,"s":"b","x":-0.18,"y":0.965},{"r":2,"c":2,"s":"b","x":-0.155,"y":1.24},{"r":2,"c":2,"s":"b","x":-0.14,"y":1.065},{"r":2,"c":2,"s":"b","x":-0.12,"y":1.025},
      {"r":2,"c":2,"s":"b","x":-0.105,"y":1.10},{"r":2,"c":2,"s":"b","x":-0.09,"y":1.16},{"r":2,"c":2,"s":"b","x":-0.07,"y":1.12},{"r":2,"c":2,"s":"b","x":-0.055,"y":1.055},{"r":2,"c":2,"s":"b","x":-0.045,"y":1.15},{"r":2,"c":2,"s":"b","x":-0.03,"y":1.095},{"r":2,"c":2,"s":"b","x":-0.015,"y":1.025},{"r":2,"c":2,"s":"b","x":0.0,"y":1.125},{"r":2,"c":2,"s":"b","x":0.02,"y":0.95},{"r":2,"c":2,"s":"b","x":0.04,"y":1.075},
      {"r":2,"c":2,"s":"b","x":0.06,"y":1.13},{"r":2,"c":2,"s":"b","x":0.08,"y":1.025},{"r":2,"c":2,"s":"b","x":0.10,"y":1.095},{"r":2,"c":2,"s":"b","x":0.12,"y":1.055},{"r":2,"c":2,"s":"b","x":0.145,"y":0.955},{"r":2,"c":2,"s":"b","x":0.165,"y":1.065},{"r":2,"c":2,"s":"b","x":0.185,"y":1.015},{"r":2,"c":2,"s":"b","x":0.205,"y":1.12},{"r":2,"c":2,"s":"b","x":0.235,"y":1.065},{"r":2,"c":2,"s":"b","x":0.245,"y":0.88},
      {"r":2,"c":2,"s":"b","x":0.265,"y":0.945},{"r":2,"c":2,"s":"b","x":0.285,"y":1.035},{"r":2,"c":2,"s":"b","x":0.31,"y":1.17},{"r":2,"c":2,"s":"b","x":0.33,"y":0.885},{"r":2,"c":2,"s":"b","x":0.35,"y":1.085},{"r":2,"c":2,"s":"b","x":0.37,"y":1.05},{"r":2,"c":2,"s":"b","x":0.39,"y":1.015},{"r":2,"c":2,"s":"b","x":0.425,"y":0.965},{"r":2,"c":2,"s":"b","x":0.43,"y":0.915},{"r":2,"c":2,"s":"b","x":0.475,"y":0.925},
      {"r":2,"c":2,"s":"b","x":0.515,"y":0.925},{"r":2,"c":2,"s":"b","x":0.55,"y":1.005},{"r":2,"c":2,"s":"b","x":0.55,"y":0.815},{"r":2,"c":2,"s":"b","x":0.58,"y":0.87},{"r":2,"c":2,"s":"b","x":0.60,"y":0.83},{"r":2,"c":2,"s":"b","x":0.62,"y":0.955},{"r":2,"c":2,"s":"b","x":0.65,"y":0.81},{"r":2,"c":2,"s":"b","x":0.675,"y":0.73},{"r":2,"c":2,"s":"b","x":0.69,"y":0.73},{"r":2,"c":2,"s":"b","x":0.73,"y":0.88},
      {"r":2,"c":2,"s":"b","x":0.785,"y":0.785},{"r":2,"c":2,"s":"b","x":-0.34,"y":0.87},{"r":2,"c":2,"s":"b","x":0.10,"y":0.975},{"r":2,"c":2,"s":"b","x":-0.07,"y":1.005},{"r":2,"c":2,"s":"b","x":0.22,"y":1.045},{"r":2,"c":2,"s":"b","x":-0.15,"y":1.12},

      {"r":2,"c":3,"s":"r","x":-0.72,"y":0.94},{"r":2,"c":3,"s":"r","x":-0.71,"y":1.005},{"r":2,"c":3,"s":"r","x":-0.70,"y":1.03},{"r":2,"c":3,"s":"r","x":-0.625,"y":1.105},{"r":2,"c":3,"s":"r","x":-0.60,"y":1.19},{"r":2,"c":3,"s":"r","x":-0.55,"y":0.96},{"r":2,"c":3,"s":"r","x":-0.49,"y":1.085},{"r":2,"c":3,"s":"r","x":-0.445,"y":1.125},{"r":2,"c":3,"s":"r","x":-0.43,"y":1.24},{"r":2,"c":3,"s":"r","x":-0.40,"y":1.18},
      {"r":2,"c":3,"s":"r","x":-0.38,"y":1.31},{"r":2,"c":3,"s":"r","x":-0.36,"y":1.23},{"r":2,"c":3,"s":"r","x":-0.34,"y":1.30},{"r":2,"c":3,"s":"r","x":-0.305,"y":1.375},{"r":2,"c":3,"s":"r","x":-0.29,"y":1.30},{"r":2,"c":3,"s":"r","x":-0.27,"y":1.22},{"r":2,"c":3,"s":"r","x":-0.26,"y":1.32},{"r":2,"c":3,"s":"r","x":-0.24,"y":1.14},{"r":2,"c":3,"s":"r","x":-0.21,"y":1.395},{"r":2,"c":3,"s":"r","x":-0.20,"y":1.27},
      {"r":2,"c":3,"s":"r","x":-0.18,"y":1.16},{"r":2,"c":3,"s":"r","x":-0.15,"y":1.20},{"r":2,"c":3,"s":"r","x":-0.13,"y":1.31},{"r":2,"c":3,"s":"r","x":-0.11,"y":1.24},{"r":2,"c":3,"s":"r","x":-0.095,"y":1.095},{"r":2,"c":3,"s":"r","x":-0.08,"y":1.33},{"r":2,"c":3,"s":"r","x":-0.055,"y":1.275},{"r":2,"c":3,"s":"r","x":-0.04,"y":1.18},{"r":2,"c":3,"s":"r","x":-0.02,"y":1.365},{"r":2,"c":3,"s":"r","x":-0.005,"y":1.23},
      {"r":2,"c":3,"s":"r","x":0.015,"y":1.31},{"r":2,"c":3,"s":"r","x":0.04,"y":1.17},{"r":2,"c":3,"s":"r","x":0.06,"y":1.26},{"r":2,"c":3,"s":"r","x":0.08,"y":1.335},{"r":2,"c":3,"s":"r","x":0.10,"y":1.465},{"r":2,"c":3,"s":"r","x":0.115,"y":1.21},{"r":2,"c":3,"s":"r","x":0.13,"y":1.30},{"r":2,"c":3,"s":"r","x":0.14,"y":1.095},{"r":2,"c":3,"s":"r","x":0.165,"y":1.365},{"r":2,"c":3,"s":"r","x":0.185,"y":1.24},
      {"r":2,"c":3,"s":"r","x":0.20,"y":1.395},{"r":2,"c":3,"s":"r","x":0.215,"y":1.18},{"r":2,"c":3,"s":"r","x":0.225,"y":1.29},{"r":2,"c":3,"s":"r","x":0.245,"y":1.335},{"r":2,"c":3,"s":"r","x":0.265,"y":1.23},{"r":2,"c":3,"s":"r","x":0.29,"y":1.17},{"r":2,"c":3,"s":"r","x":0.31,"y":1.335},{"r":2,"c":3,"s":"r","x":0.33,"y":1.28},{"r":2,"c":3,"s":"r","x":0.34,"y":1.03},{"r":2,"c":3,"s":"r","x":0.365,"y":1.155},
      {"r":2,"c":3,"s":"r","x":0.415,"y":1.27},{"r":2,"c":3,"s":"r","x":0.455,"y":1.15},{"r":2,"c":3,"s":"r","x":0.475,"y":1.16},{"r":2,"c":3,"s":"r","x":0.53,"y":1.245},{"r":2,"c":3,"s":"r","x":0.57,"y":1.245},{"r":2,"c":3,"s":"r","x":0.685,"y":1.105},{"r":2,"c":3,"s":"r","x":0.70,"y":1.065},{"r":2,"c":3,"s":"r","x":0.705,"y":0.995},{"r":2,"c":3,"s":"r","x":0.685,"y":0.94},{"r":2,"c":3,"s":"r","x":-0.13,"y":1.085},
      {"r":2,"c":3,"s":"r","x":-0.005,"y":1.105},{"r":2,"c":3,"s":"r","x":0.08,"y":1.16},{"r":2,"c":3,"s":"r","x":-0.20,"y":1.085},{"r":2,"c":3,"s":"r","x":0.185,"y":1.12},{"r":2,"c":3,"s":"r","x":-0.045,"y":1.41},{"r":2,"c":3,"s":"r","x":-0.28,"y":1.12},
      {"r":2,"c":3,"s":"b","x":-0.475,"y":1.055},{"r":2,"c":3,"s":"b","x":-0.36,"y":1.10},{"r":2,"c":3,"s":"b","x":-0.32,"y":0.935},{"r":2,"c":3,"s":"b","x":-0.29,"y":1.055},{"r":2,"c":3,"s":"b","x":-0.255,"y":1.13},{"r":2,"c":3,"s":"b","x":-0.225,"y":1.035},{"r":2,"c":3,"s":"b","x":-0.19,"y":1.105},{"r":2,"c":3,"s":"b","x":-0.17,"y":1.025},{"r":2,"c":3,"s":"b","x":-0.15,"y":1.16},{"r":2,"c":3,"s":"b","x":-0.13,"y":1.075},
      {"r":2,"c":3,"s":"b","x":-0.11,"y":1.015},{"r":2,"c":3,"s":"b","x":-0.09,"y":1.125},{"r":2,"c":3,"s":"b","x":-0.065,"y":1.055},{"r":2,"c":3,"s":"b","x":-0.055,"y":0.975},{"r":2,"c":3,"s":"b","x":-0.06,"y":0.91},{"r":2,"c":3,"s":"b","x":-0.04,"y":1.085},{"r":2,"c":3,"s":"b","x":-0.02,"y":1.02},{"r":2,"c":3,"s":"b","x":-0.005,"y":1.15},{"r":2,"c":3,"s":"b","x":0.015,"y":1.065},{"r":2,"c":3,"s":"b","x":0.04,"y":0.955},
      {"r":2,"c":3,"s":"b","x":0.045,"y":1.005},{"r":2,"c":3,"s":"b","x":0.06,"y":1.105},{"r":2,"c":3,"s":"b","x":0.08,"y":1.045},{"r":2,"c":3,"s":"b","x":0.10,"y":1.135},{"r":2,"c":3,"s":"b","x":0.115,"y":0.975},{"r":2,"c":3,"s":"b","x":0.13,"y":1.075},{"r":2,"c":3,"s":"b","x":0.145,"y":0.965},{"r":2,"c":3,"s":"b","x":0.165,"y":1.035},{"r":2,"c":3,"s":"b","x":0.185,"y":1.105},{"r":2,"c":3,"s":"b","x":0.205,"y":1.055},
      {"r":2,"c":3,"s":"b","x":0.225,"y":1.015},{"r":2,"c":3,"s":"b","x":0.245,"y":1.085},{"r":2,"c":3,"s":"b","x":0.265,"y":1.145},{"r":2,"c":3,"s":"b","x":0.29,"y":0.955},{"r":2,"c":3,"s":"b","x":0.31,"y":1.025},{"r":2,"c":3,"s":"b","x":0.33,"y":0.965},{"r":2,"c":3,"s":"b","x":0.35,"y":1.075},{"r":2,"c":3,"s":"b","x":0.405,"y":1.10},{"r":2,"c":3,"s":"b","x":0.475,"y":1.05},{"r":2,"c":3,"s":"b","x":0.54,"y":1.015},
      {"r":2,"c":3,"s":"b","x":-0.005,"y":1.005},{"r":2,"c":3,"s":"b","x":0.08,"y":0.995},{"r":2,"c":3,"s":"b","x":-0.13,"y":1.14},{"r":2,"c":3,"s":"b","x":0.165,"y":1.14},{"r":2,"c":3,"s":"b","x":-0.17,"y":1.065},{"r":2,"c":3,"s":"b","x":0.225,"y":1.075},{"r":2,"c":3,"s":"b","x":0.015,"y":1.115},{"r":2,"c":3,"s":"b","x":0.14,"y":1.055}
    ]
  },
  "data": {"name": "pts"},
  "facet": {
    "row": {"field": "r", "type": "ordinal", "header": null},
    "column": {"field": "c", "type": "ordinal", "header": null}
  },
  "bounds": "flush",
  "spacing": {"row": 92, "column": 62},
  "resolve": {"axis": {"x": "independent", "y": "independent"}},
  "spec": {
    "width": 200,
    "height": 239,
    "layer": [
      {
        "mark": {"type": "point", "filled": false, "strokeWidth": 1.2, "opacity": 1},
        "encoding": {
          "x": {"field": "x", "type": "quantitative", "title": null,
                "scale": {"domain": [-1.5, 1], "nice": false, "zero": false},
                "axis": {"values": [-1, 0, 1], "labelExpr": "toString(datum.value)"}},
          "y": {"field": "y", "type": "quantitative", "title": null,
                "scale": {"domain": [0.2, 1.6], "nice": false, "zero": false},
                "axis": {"values": [0.2, 0.4, 0.6, 0.8, 1, 1.2, 1.4], "labelExpr": "toString(datum.value)"}},
          "color": {"field": "s", "type": "nominal", "legend": null,
                    "scale": {"domain": ["b", "r"], "range": ["#0072BD", "#FF0000"]}},
          "shape": {"field": "s", "type": "nominal", "legend": null,
                    "scale": {"domain": ["b", "r"], "range": ["circle", "M0,-1L0.72,0L0,1L-0.72,0Z"]}},
          "size": {"field": "s", "type": "nominal", "legend": null,
                   "scale": {"domain": ["b", "r"], "range": [64, 144]}}
        }
      },
      {
        "mark": {"type": "point", "opacity": 0},
        "encoding": {
          "x": {"field": "x", "type": "quantitative", "title": null,
                "axis": {"orient": "top", "values": [-1, 0, 1], "labels": false}},
          "y": {"field": "y", "type": "quantitative", "title": null,
                "axis": {"orient": "right", "values": [0.2, 0.4, 0.6, 0.8, 1, 1.2, 1.4], "labels": false}}
        }
      }
    ],
    "resolve": {"axis": {"x": "independent", "y": "independent"}}
  },
  "config": {
    "view": {"stroke": "#262626", "strokeWidth": 0.6},
    "axis": {
      "domain": false,
      "grid": false,
      "tickSize": -3,
      "tickColor": "#262626",
      "tickWidth": 0.6,
      "labelFont": "Liberation Sans",
      "labelFontSize": 15,
      "labelColor": "#262626",
      "labelPadding": 13,
      "labelFlush": false,
      "labelOverlap": false
    }
  }
}
